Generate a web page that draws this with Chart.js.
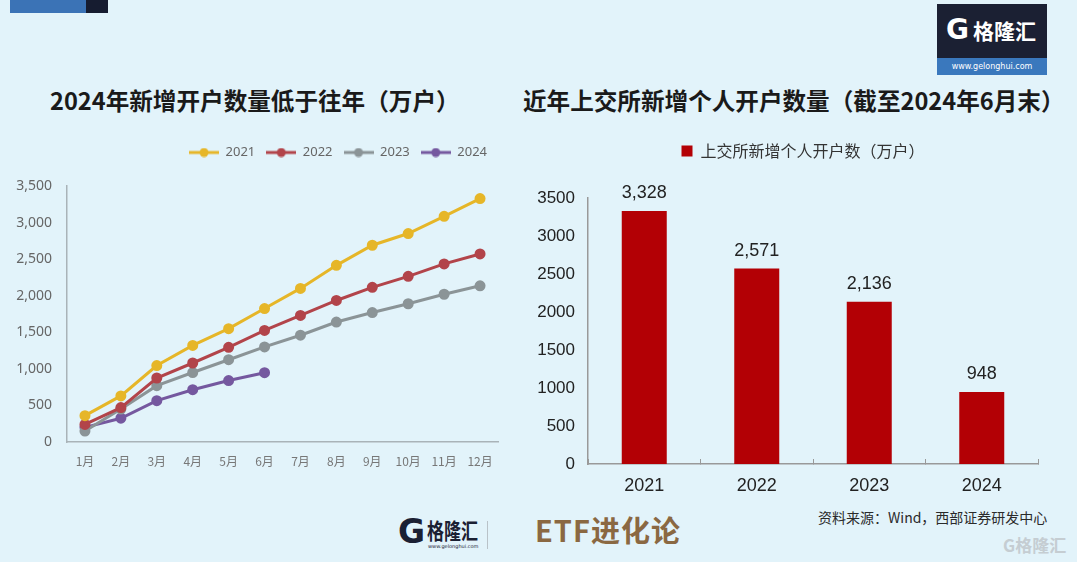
<!DOCTYPE html>
<html>
<head>
<meta charset="utf-8">
<script src="https://cdn.jsdelivr.net/npm/chart.js@4/dist/chart.umd.min.js"></script>
<style>
  html, body { margin: 0; padding: 0; }
  body { width: 1077px; height: 562px; background: #e2f3fa; position: relative; overflow: hidden;
         font-family: "Noto Sans CJK SC", "Noto Sans", sans-serif; }
  .abs { position: absolute; white-space: nowrap; }
  .title { font-size: 23.6px; font-weight: 700; color: #1a1a1a; line-height: 1; }
  #box1 { position: absolute; left: 0; top: 135px; width: 505px; height: 350px; }
  #box2 { position: absolute; left: 520px; top: 130px; width: 557px; height: 370px; }
</style>
</head>
<body>
<!-- top-left bar -->
<div class="abs" style="left:10px;top:0;width:76px;height:13px;background:#3b73b6"></div>
<div class="abs" style="left:86px;top:0;width:22px;height:13px;background:#161c30"></div>

<!-- top-right logo -->
<div class="abs" style="left:937px;top:4px;width:110px;height:54px;background:#1b2033"></div>
<div class="abs" style="left:937px;top:58px;width:110px;height:17px;background:#3a78bd;color:#fff;font:8px 'DejaVu Sans';text-align:center;line-height:17px">www.gelonghui.com</div>
<div class="abs" style="left:946px;top:16px;color:#fff;font:700 28px 'DejaVu Sans';line-height:1">G</div>
<div class="abs" style="left:973px;top:20px;color:#fff;font:700 21px 'Noto Sans CJK SC';line-height:1">格隆汇</div>

<div class="abs title" style="left:50px;top:89px">2024年新增开户数量低于往年（万户）</div>
<div class="abs title" style="left:523px;top:89px">近年上交所新增个人开户数量（截至2024年6月末）</div>

<div id="box1"><canvas id="c1"></canvas></div>
<div id="box2"><canvas id="c2"></canvas></div>

<!-- footer -->
<div class="abs" style="left:398px;top:515px;color:#1b2033;font:700 33px 'DejaVu Sans';line-height:1">G</div>
<div class="abs" style="left:427px;top:518px;color:#1b2033;font:700 17px 'Noto Sans CJK SC';line-height:1;transform:scaleY(1.3);transform-origin:top left">格隆汇</div>
<div class="abs" style="left:428px;top:544px;color:#1b2033;font:5px 'DejaVu Sans';line-height:1">www.gelonghui.com</div>
<div class="abs" style="left:487px;top:521px;width:1px;height:28px;background:#b9c2c8"></div>
<div class="abs" style="left:535px;top:515px;color:#8a6842;font:700 29px 'Noto Sans CJK SC';line-height:1;letter-spacing:1px">ETF进化论</div>
<div class="abs" style="left:818px;top:510px;color:#2a2a2a;font:14px 'Noto Sans CJK SC';line-height:1">资料来源：Wind，西部证券研发中心</div>
<div class="abs" style="left:1003px;top:536px;color:#c5cdd2;font:700 17px 'Noto Sans CJK SC';line-height:1">G格隆汇</div>

<script>
const months = ['1月', '2月', '3月', '4月', '5月', '6月', '7月', '8月', '9月', '10月', '11月', '12月']
const acc2021 = [360, 630, 1045, 1320, 1550, 1825, 2100, 2415, 2690, 2850, 3085, 3328]
const acc2022 = [240, 470, 875, 1080, 1295, 1525, 1730, 1935, 2115, 2265, 2435, 2571]
const acc2023 = [150, 450, 770, 950, 1125, 1300, 1460, 1640, 1770, 1890, 2020, 2136]
const acc2024 = [200, 325, 565, 715, 840, 948]

const years = ['2021', '2022', '2023', '2024']
const sseNew = [3328, 2571, 2136, 948]

const yTicks1 = [0, 500, 1000, 1500, 2000, 2500, 3000, 3500]

// extra room under a legend so the plot starts lower, plus optional sideways nudge
const legendGap = {
  id: 'legendGap',
  afterInit(chart, args, opts) {
    const fit = chart.legend.fit
    chart.legend.fit = function () {
      fit.call(this)
      this.height += opts.extra || 0
    }
  },
  afterLayout(chart, args, opts) {
    if (opts.shift) {
      chart.legend.left += opts.shift
      chart.legend.right += opts.shift
    }
  }
}

// little line-with-dot swatch for the line chart legend
function swatch(color) {
  const c = document.createElement('canvas')
  c.width = 30
  c.height = 10
  const g = c.getContext('2d')
  g.strokeStyle = color
  g.lineWidth = 3
  g.beginPath()
  g.moveTo(0, 5)
  g.lineTo(30, 5)
  g.stroke()
  g.fillStyle = color
  g.beginPath()
  g.arc(15, 5, 4.5, 0, Math.PI * 2)
  g.fill()
  return c
}

const lineColors = ['#e6b628', '#b2444a', '#8b9497', '#75589f']
const lineData = [acc2021, acc2022, acc2023, acc2024]

new Chart(document.getElementById('c1'), {
  type: 'line',
  data: {
    labels: months,
    datasets: years.map((y, i) => ({
      label: y,
      data: lineData[i],
      borderColor: lineColors[i],
      backgroundColor: lineColors[i],
      pointBackgroundColor: lineColors[i],
      pointBorderColor: lineColors[i],
      borderWidth: 3,
      pointRadius: 4,
      tension: 0
    }))
  },
  options: {
    responsive: true,
    maintainAspectRatio: false,
    animation: false,
    layout: { padding: { right: 7 } },
    plugins: {
      legendGap: { extra: 17 },
      tooltip: { enabled: false },
      legend: {
        position: 'top',
        align: 'end',
        labels: {
          usePointStyle: true,
          pointStyleWidth: 30,
          boxHeight: 10,
          padding: 11,
          color: '#666',
          font: { family: 'Noto Sans', size: 13 },
          generateLabels(chart) {
            const items = Chart.defaults.plugins.legend.labels.generateLabels(chart)
            items.forEach((it, i) => { it.pointStyle = swatch(lineColors[i]) })
            return items
          }
        }
      }
    },
    scales: {
      x: {
        offset: true,
        grid: { display: false, drawTicks: false },
        border: { color: '#a9b3b8', width: 1.5 },
        ticks: { color: '#777', padding: 12, font: { family: 'Noto Sans CJK SC', size: 12 }, maxRotation: 0 },
        afterFit(s) { s.height = 43 }
      },
      y: {
        min: 0,
        max: 3500,
        afterBuildTicks(s) { s.ticks = yTicks1.map(v => ({ value: v })) },
        grid: { display: false, drawTicks: false },
        border: { color: '#a9b3b8', width: 1.5 },
        ticks: {
          color: '#666',
          padding: 15,
          font: { family: 'Noto Sans', size: 14 },
          callback: v => v.toLocaleString('en-US')
        },
        afterFit(s) { s.width = 67 }
      }
    }
  },
  plugins: [legendGap]
})

// value labels above the bars
const barValues = {
  id: 'barValues',
  afterDatasetsDraw(chart) {
    const ctx = chart.ctx
    const meta = chart.getDatasetMeta(0)
    ctx.save()
    ctx.fillStyle = '#222'
    ctx.font = '18px "Liberation Sans"'
    ctx.textAlign = 'center'
    ctx.textBaseline = 'bottom'
    meta.data.forEach((bar, i) => {
      ctx.fillText(chart.data.datasets[0].data[i].toLocaleString('en-US'), bar.x, bar.y - 9)
    })
    ctx.restore()
  }
}

new Chart(document.getElementById('c2'), {
  type: 'bar',
  data: {
    labels: years,
    datasets: [{
      label: '上交所新增个人开户数（万户）',
      data: sseNew,
      backgroundColor: '#b30005',
      barPercentage: 0.4,
      categoryPercentage: 1
    }]
  },
  options: {
    responsive: true,
    maintainAspectRatio: false,
    animation: false,
    layout: { padding: { right: 39 } },
    plugins: {
      legendGap: { extra: 29, shift: 24 },
      tooltip: { enabled: false },
      legend: {
        position: 'top',
        labels: {
          boxWidth: 11,
          boxHeight: 11,
          padding: 13,
          color: '#333',
          font: { family: 'Noto Sans CJK SC', size: 16 }
        }
      }
    },
    scales: {
      x: {
        grid: { drawOnChartArea: false, drawTicks: true, tickLength: -5, color: '#999', offset: true },
        border: { color: '#999', width: 1.5 },
        ticks: { color: '#222', padding: 16, font: { family: 'Liberation Sans', size: 18 } },
        afterFit(s) { s.height = 36 }
      },
      y: {
        min: 0,
        max: 3500,
        ticks: { stepSize: 500, color: '#222', padding: 13, font: { family: 'Liberation Sans', size: 17 }, callback: v => String(v) },
        grid: { display: false, drawTicks: false },
        border: { color: '#999', width: 1.5 },
        afterFit(s) { s.width = 68 }
      }
    }
  },
  plugins: [legendGap, barValues]
})
</script>
</body>
</html>
